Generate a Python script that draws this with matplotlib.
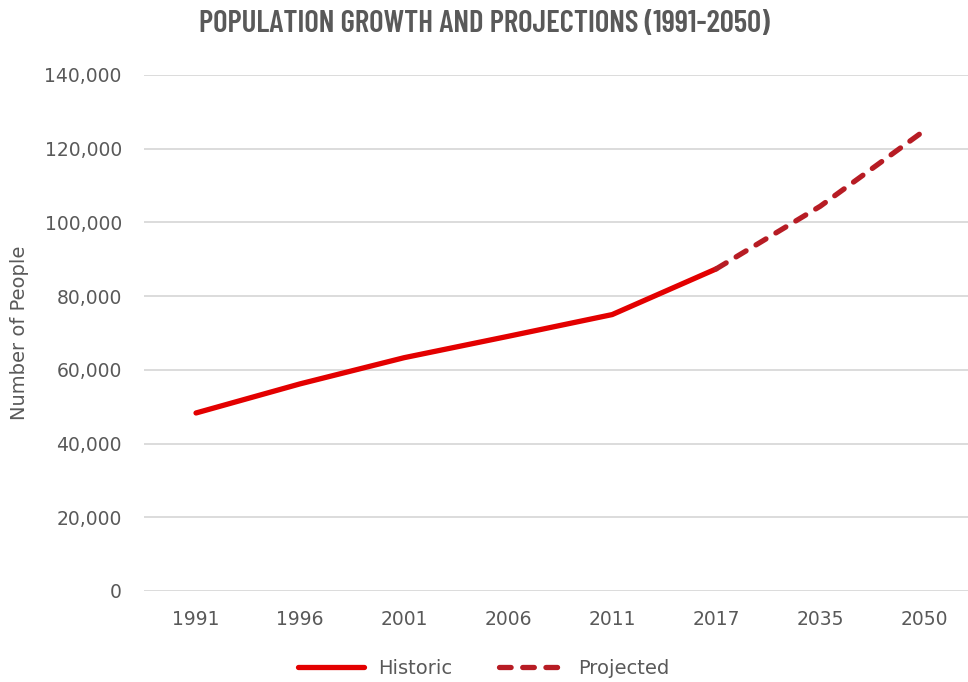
import matplotlib
matplotlib.use("Agg")
import matplotlib.pyplot as plt
from matplotlib.ticker import FuncFormatter
from matplotlib import font_manager

years = ["1991", "1996", "2001", "2006", "2011", "2017", "2035", "2050"]
historic = [48300, 56200, 63300, 69100, 75000, 87400]
projected = [87400, 104400, 124900]

hist_color = "#E30000"
proj_color = "#B71C24"
text_color = "#595959"

names = {f.name for f in font_manager.fontManager.ttflist}


def pick(cands, default="DejaVu Sans"):
    for c in cands:
        if c in names:
            return c
    return default


font = "DejaVu Sans"
title_font = pick(["Barlow Condensed", "Roboto Condensed", "DejaVu Sans"])

fig = plt.figure(figsize=(9.68, 6.82), dpi=100)
ax = fig.add_axes([144/968, 1 - 591/682, 1 - 144/968, (591 - 75)/682])

x_hist = list(range(len(historic)))
x_proj = list(range(len(historic) - 1, len(years)))
ax.plot(x_hist, historic, color=hist_color, lw=3.8, solid_capstyle="round",
        solid_joinstyle="round", label="Historic", zorder=3)
ax.plot(x_proj, projected, color=proj_color, lw=3.8, linestyle=(0, (2.2, 2.2)),
        dash_capstyle="round", label="Projected", zorder=3)

ax.set_xlim(-0.5, 7.42)
ax.set_ylim(0, 140000)
ax.set_yticks(range(0, 140001, 20000))
ax.yaxis.set_major_formatter(FuncFormatter(lambda v, p: f"{int(v):,}"))
ax.set_xticks(range(len(years)))
ax.set_xticklabels(years)
ax.grid(axis="y", color="#D9D9D9", lw=1.3)
ax.set_axisbelow(True)
for s in ax.spines.values():
    s.set_visible(False)
ax.tick_params(axis="both", length=0, labelsize=13.5, labelcolor=text_color)
ax.tick_params(axis="y", pad=16)
ax.tick_params(axis="x", pad=14)
for lab in ax.get_xticklabels() + ax.get_yticklabels():
    lab.set_fontfamily(font)

ax.set_ylabel("Number of People", fontsize=14, color=text_color, family=font)
ax.yaxis.set_label_coords(-0.14, 0.5)

fig.text(0.5, 1 - 24/682, "POPULATION GROWTH AND PROJECTIONS (1991-2050)",
         ha="center", va="center", fontsize=22.4, fontweight="semibold",
         family=title_font, color=text_color)

leg = fig.legend(loc="center", bbox_to_anchor=(0.5, 1 - 668/682), ncol=2, frameon=False,
                 prop={"family": font, "size": 14}, handlelength=3.4, columnspacing=2.4,
                 handletextpad=0.7)
for t in leg.get_texts():
    t.set_color(text_color)

fig.savefig("out.png", dpi=100)
